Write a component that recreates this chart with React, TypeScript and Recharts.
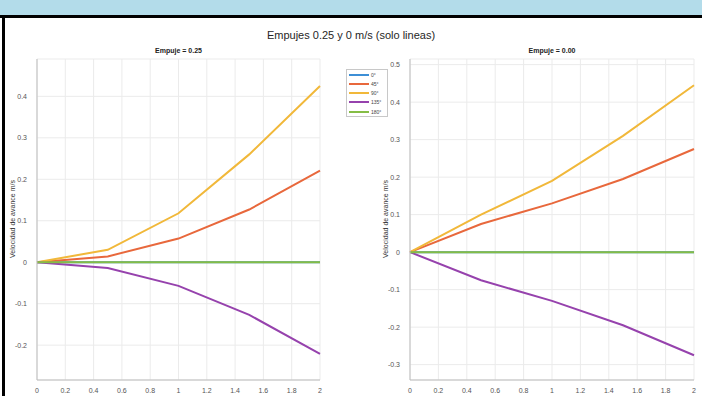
import { LineChart, Line, XAxis, YAxis, CartesianGrid } from "recharts";

// tiempo / eje x compartido
const X_VALUES = [0, 0.5, 1, 1.5, 2];
const ANGLES = ["0°", "45°", "90°", "135°", "180°"];
const COLORS = ["#3d8fd6", "#e8683c", "#f1b83a", "#9642ad", "#85bd45"];

// Empuje = 0.25
const E025_0 = [0, 0, 0, 0, 0];
const E025_45 = [0, 0.014, 0.057, 0.127, 0.221];
const E025_90 = [0, 0.03, 0.118, 0.26, 0.425];
const E025_135 = [0, -0.014, -0.057, -0.127, -0.221];
const E025_180 = [0, 0, 0, 0, 0];

// Empuje = 0.00
const E000_0 = [0, 0, 0, 0, 0];
const E000_45 = [0, 0.075, 0.13, 0.195, 0.275];
const E000_90 = [0, 0.1, 0.19, 0.31, 0.445];
const E000_135 = [0, -0.075, -0.13, -0.195, -0.275];
const E000_180 = [0, 0, 0, 0, 0];

const X_TICKS = [0, 0.2, 0.4, 0.6, 0.8, 1, 1.2, 1.4, 1.6, 1.8, 2];
const Y_TICKS_LEFT = [-0.2, -0.1, 0, 0.1, 0.2, 0.3, 0.4];
const Y_TICKS_RIGHT = [-0.3, -0.2, -0.1, 0, 0.1, 0.2, 0.3, 0.4, 0.5];

const FONT = "'Liberation Sans', Arial, sans-serif";

function buildRows(series: number[][]) {
  return X_VALUES.map((x, i) => {
    const row: Record<string, number> = { x };
    ANGLES.forEach((a, j) => {
      row[a] = series[j][i];
    });
    return row;
  });
}

const tick = { fill: "#555555", fontSize: 7, fontFamily: FONT };

interface PanelProps {
  left: number;
  width: number;
  rows: Record<string, number>[];
  domain: [number, number];
  yTicks: number[];
  title: string;
}

function Panel({ left, width, rows, domain, yTicks, title }: PanelProps) {
  const plotLeft = left + 37;
  const plotRight = left + width - 10;
  return (
    <>
      <div
        style={{
          position: "absolute",
          left: plotLeft,
          width: plotRight - plotLeft,
          top: 47,
          textAlign: "center",
          fontSize: 7,
          fontWeight: "bold",
          color: "#222",
          fontFamily: FONT,
        }}
      >
        {title}
      </div>
      <div
        style={{
          position: "absolute",
          left: left + 12,
          top: 219,
          transform: "translate(-50%, -50%) rotate(-90deg)",
          fontSize: 7,
          color: "#333",
          whiteSpace: "nowrap",
          fontFamily: FONT,
        }}
      >
        Velocidad de avance m/s
      </div>
      <div style={{ position: "absolute", left, top: 0 }}>
        <LineChart
          width={width}
          height={396}
          data={rows}
          margin={{ top: 59, right: 10, bottom: 0, left: 0 }}
        >
          <CartesianGrid stroke="#ebebeb" strokeWidth={1} />
          <XAxis
            dataKey="x"
            type="number"
            domain={[0, 2]}
            ticks={X_TICKS}
            interval={0}
            height={16}
            tick={tick}
            tickLine={false}
            axisLine={{ stroke: "#bdbdbd" }}
            tickMargin={2}
          />
          <YAxis
            type="number"
            domain={domain}
            ticks={yTicks}
            interval={0}
            width={37}
            tick={tick}
            tickLine={false}
            axisLine={{ stroke: "#bdbdbd" }}
            tickMargin={4}
            allowDataOverflow
          />
          {ANGLES.map((a, i) => (
            <Line
              key={a}
              dataKey={a}
              type="linear"
              stroke={COLORS[i]}
              strokeWidth={2}
              dot={false}
              isAnimationActive={false}
            />
          ))}
        </LineChart>
      </div>
    </>
  );
}

export default function App() {
  const rowsLeft = buildRows([E025_0, E025_45, E025_90, E025_135, E025_180]);
  const rowsRight = buildRows([E000_0, E000_45, E000_90, E000_135, E000_180]);

  return (
    <div
      style={{
        position: "absolute",
        left: 0,
        top: 0,
        width: 702,
        height: 396,
        background: "#ffffff",
        overflow: "hidden",
        fontFamily: FONT,
      }}
    >
      <div style={{ position: "absolute", left: 0, top: 0, width: 702, height: 15, background: "#b3dcea" }} />
      <div style={{ position: "absolute", left: 0, top: 15, width: 702, height: 3, background: "#000" }} />
      <div style={{ position: "absolute", left: 2, top: 15, width: 3, height: 381, background: "#000" }} />

      <div
        style={{
          position: "absolute",
          left: 0,
          width: 702,
          top: 29,
          textAlign: "center",
          fontSize: 11,
          color: "#262626",
        }}
      >
        Empujes 0.25 y 0 m/s (solo lineas)
      </div>

      <Panel left={0} width={330} rows={rowsLeft} domain={[-0.284, 0.49]} yTicks={Y_TICKS_LEFT} title="Empuje = 0.25" />
      <Panel left={373} width={331} rows={rowsRight} domain={[-0.341, 0.515]} yTicks={Y_TICKS_RIGHT} title="Empuje = 0.00" />

      <div
        style={{
          position: "absolute",
          left: 346,
          top: 69,
          width: 42,
          height: 48,
          border: "1px solid #c8c8c8",
          background: "#fff",
          boxSizing: "border-box",
        }}
      >
        {ANGLES.map((a, i) => (
          <div
            key={a}
            style={{
              position: "absolute",
              left: 2,
              top: 0.5 + i * 9.3,
              height: 8,
              display: "flex",
              alignItems: "center",
            }}
          >
            <div style={{ width: 20, height: 2, background: COLORS[i] }} />
            <span style={{ fontSize: 5, color: "#444", marginLeft: 2 }}>{a}</span>
          </div>
        ))}
      </div>
    </div>
  );
}
